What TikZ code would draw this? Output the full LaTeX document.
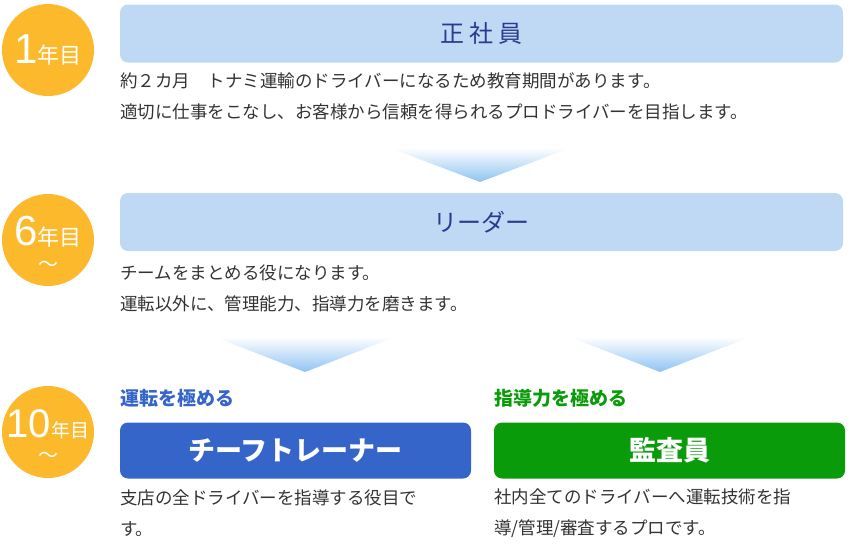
\documentclass[tikz,border=0pt]{standalone}
\usepackage{fontspec}
\setmainfont{Noto Sans CJK JP}
\newfontfamily\numfont{Liberation Sans}
\definecolor{circ}{HTML}{FBB92B}
\definecolor{lbox}{HTML}{BFD9F5}
\definecolor{dtext}{HTML}{2B3990}
\definecolor{bbox}{HTML}{3565C9}
\definecolor{gbox}{HTML}{0A9B0A}
\definecolor{tri}{HTML}{8FC3F2}
\definecolor{body}{HTML}{333333}
\begin{document}
\begin{tikzpicture}[x=1pt,y=-1pt,
  yr/.style={circle,fill=circ,minimum size=92pt,inner sep=0pt,text=white},
  wt/.style={text=white,inner sep=0pt},
  head/.style={rounded corners=8pt,fill=lbox,minimum height=58pt,text=dtext,font=\fontsize{24}{24}\selectfont},
  big/.style={rounded corners=8pt,minimum height=56pt,text=white,font=\bfseries\fontsize{27}{27}\selectfont},
  txt/.style={anchor=west,text=body,font=\fontsize{17.5}{31}\selectfont,align=left,inner sep=0pt},
  lab/.style={anchor=west,font=\bfseries\fontsize{19}{19}\selectfont,inner sep=0pt}]
\useasboundingbox (0,0) rectangle (850,550);
\node[yr] (c1) at (48,50) {{\numfont\fontsize{42}{42}\selectfont 1}{\fontsize{22}{22}\selectfont 年目}};
\node[yr] (c2) at (48,240) {};
\node[wt] (c2a) at (48,232) {{\numfont\fontsize{42}{42}\selectfont 6}{\fontsize{22}{22}\selectfont 年目}};
\node[wt,font=\fontsize{20}{20}\selectfont] (c2b) at (48,266) {～};
\node[yr] (c3) at (48,432) {};
\node[wt] (c3a) at (48,424) {{\numfont\fontsize{40}{40}\selectfont 10}{\fontsize{19}{19}\selectfont 年目}};
\node[wt,font=\fontsize{20}{20}\selectfont] (c3b) at (48,457) {～};
\node[head,minimum width=723pt] (b1) at (481.5,33.5) {正\hspace{5pt}社\hspace{5pt}員};
\node[txt] (t1) at (120,96) {約２カ月　トナミ運輸のドライバーになるため教育期間があります。\\適切に仕事をこなし、お客様から信頼を得られるプロドライバーを目指します。};
\shade[top color=white,bottom color=tri] (390,148) -- (570,148) -- (480,182) -- cycle;
\node[head,minimum width=723pt] (b2) at (481.5,222) {リーダー};
\node[txt] (t2) at (120,288) {チームをまとめる役になります。\\運転以外に、管理能力、指導力を磨きます。};
\shade[top color=white,bottom color=tri] (215,337) -- (395,337) -- (305,372) -- cycle;
\shade[top color=white,bottom color=tri] (570,337) -- (750,337) -- (660,372) -- cycle;
\node[lab,text=bbox] (l1) at (120,398) {運転を極める};
\node[lab,text=gbox] (l2) at (494,398) {指導力を極める};
\node[big,fill=bbox,minimum width=351pt] (b3) at (295.5,450.5) {チーフトレーナー};
\node[big,fill=gbox,minimum width=351pt] (b4) at (669.5,450.5) {監査員};
\node[txt] (t3) at (120,513) {支店の全ドライバーを指導する役目で\\す。};
\node[txt] (t4) at (494,513) {社内全てのドライバーへ運転技術を指\\導/管理/審査するプロです。};
\end{tikzpicture}
\end{document}
